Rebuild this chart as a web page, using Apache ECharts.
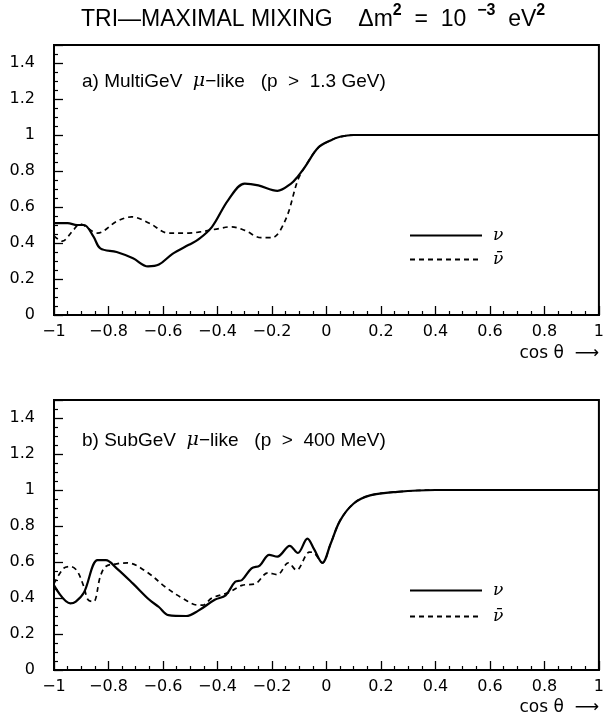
<!DOCTYPE html>
<html>
<head>
<meta charset="utf-8">
<script src="https://cdn.jsdelivr.net/npm/echarts@6/dist/echarts.min.js"></script>
<style>
  html, body { margin: 0; padding: 0; background: #fff; }
  #chart-container { width: 607px; height: 719px; }
</style>
</head>
<body>
<div id="chart-container"></div>
<script>
  // panel a) MultiGeV mu-like, neutrino (solid)
  var xA_nu = [-1, -0.95, -0.915, -0.89, -0.855, -0.83, -0.77, -0.71, -0.655, -0.615, -0.565, -0.505, -0.47, -0.42, -0.36, -0.3, -0.25, -0.18, -0.13, -0.105, -0.08, -0.03, 0.015, 0.05, 0.1, 0.2, 0.4, 0.6, 0.8, 1];
  var yA_nu = [0.51, 0.51, 0.50, 0.50, 0.435, 0.37, 0.35, 0.315, 0.27, 0.28, 0.34, 0.39, 0.42, 0.49, 0.64, 0.73, 0.72, 0.69, 0.73, 0.77, 0.82, 0.93, 0.97, 0.99, 1.0, 1.0, 1.0, 1.0, 1.0, 1.0];
  // panel a) anti-neutrino (dashed)
  var xA_nubar = [-1, -0.97, -0.93, -0.905, -0.84, -0.77, -0.715, -0.65, -0.58, -0.505, -0.47, -0.395, -0.35, -0.3, -0.24, -0.2, -0.15, -0.105, -0.08, -0.03, 0.015, 0.05, 0.1, 0.2, 0.4, 0.6, 0.8, 1];
  var yA_nubar = [0.44, 0.41, 0.47, 0.505, 0.455, 0.52, 0.545, 0.51, 0.455, 0.455, 0.46, 0.48, 0.49, 0.47, 0.43, 0.43, 0.53, 0.75, 0.82, 0.93, 0.97, 0.99, 1.0, 1.0, 1.0, 1.0, 1.0, 1.0];

  // panel b) SubGeV mu-like, neutrino (solid)
  var xB_nu = [-1, -0.94, -0.92, -0.89, -0.84, -0.81, -0.77, -0.71, -0.65, -0.615, -0.58, -0.515, -0.47, -0.41, -0.37, -0.335, -0.31, -0.275, -0.245, -0.21, -0.18, -0.135, -0.105, -0.07, -0.045, -0.015, 0.015, 0.05, 0.1, 0.16, 0.26, 0.4, 0.6, 0.8, 1];
  var yB_nu = [0.47, 0.37, 0.38, 0.43, 0.61, 0.61, 0.565, 0.48, 0.39, 0.35, 0.305, 0.30, 0.33, 0.39, 0.415, 0.49, 0.50, 0.565, 0.58, 0.64, 0.63, 0.69, 0.65, 0.73, 0.67, 0.595, 0.70, 0.83, 0.925, 0.97, 0.99, 1.0, 1.0, 1.0, 1.0];
  // panel b) anti-neutrino (dashed)
  var xB_nubar = [-1, -0.965, -0.94, -0.915, -0.89, -0.875, -0.855, -0.83, -0.81, -0.77, -0.73, -0.66, -0.59, -0.53, -0.47, -0.455, -0.42, -0.36, -0.31, -0.26, -0.215, -0.18, -0.14, -0.11, -0.062, -0.045, -0.015, 0.015, 0.05, 0.1, 0.16, 0.26, 0.4, 0.6, 0.8, 1];
  var yB_nubar = [0.48, 0.565, 0.575, 0.55, 0.46, 0.39, 0.38, 0.52, 0.575, 0.59, 0.595, 0.545, 0.46, 0.40, 0.36, 0.36, 0.40, 0.43, 0.47, 0.48, 0.54, 0.53, 0.595, 0.555, 0.655, 0.65, 0.595, 0.70, 0.83, 0.925, 0.97, 0.99, 1.0, 1.0, 1.0, 1.0];

  function zip(xs, ys) {
    return xs.map(function (x, i) { return [x, ys[i]]; });
  }

  var FONT = 'DejaVu Sans';
  var TEXTFONT = 'Liberation Sans';

  var dom = document.getElementById('chart-container');
  var myChart = echarts.init(dom, null, { renderer: 'canvas' });

  function xAxisFor(gridIndex) {
    return {
      type: 'value', gridIndex: gridIndex, min: -1, max: 1, interval: 0.2,
      axisLine: { show: true, onZero: false, lineStyle: { color: '#000', width: 2 } },
      axisTick: { show: true, inside: true, length: 9, lineStyle: { color: '#000', width: 1.3 } },
      minorTick: { show: true, splitNumber: 4, length: 4, lineStyle: { color: '#000', width: 1.2 } },
      splitLine: { show: false },
      axisLabel: {
        color: '#000', fontFamily: FONT, fontSize: 16, margin: 9,
        formatter: function (v) { return String(Math.round(v * 10) / 10).replace('-', '\u2212'); }
      }
    };
  }

  function yAxisFor(gridIndex) {
    return {
      type: 'value', gridIndex: gridIndex, min: 0, max: 1.5, interval: 0.2,
      axisLine: { show: true, onZero: false, lineStyle: { color: '#000', width: 2 } },
      axisTick: { show: true, inside: true, length: 9, lineStyle: { color: '#000', width: 1.3 } },
      minorTick: { show: true, splitNumber: 4, length: 4, lineStyle: { color: '#000', width: 1.2 } },
      splitLine: { show: false },
      axisLabel: {
        color: '#000', fontFamily: FONT, fontSize: 16, margin: 19, showMaxLabel: false,
        formatter: function (v) { return v > 1.45 ? '' : String(Math.round(v * 10) / 10); }
      }
    };
  }

  function lineSeries(name, idx, data, dashed) {
    return {
      name: name, type: 'line', xAxisIndex: idx, yAxisIndex: idx,
      data: data, smooth: 0.35, symbol: 'none', showSymbol: false, animation: false,
      z: dashed ? 2 : 3,
      itemStyle: { color: '#000' },
      lineStyle: { color: '#000', width: dashed ? 1.7 : 2.2, type: dashed ? [5, 4] : 'solid' }
    };
  }

  var legendNames = { a_nu: '\u03bd', a_nubar: '\u03bd\u0304', b_nu: '\u03bd', b_nubar: '\u03bd\u0304' };

  function legendFor(names, top, gap) {
    return {
      data: names, orient: 'vertical', left: 404, top: top,
      itemWidth: 72, itemHeight: 14, itemGap: gap, selectedMode: false,
      itemStyle: { color: 'rgba(0,0,0,0)', borderColor: 'rgba(0,0,0,0)', borderWidth: 0, opacity: 0 },
      textStyle: { color: '#000', fontFamily: 'DejaVu Serif', fontStyle: 'italic', fontSize: 17, padding: [0, 0, 0, 6] },
      formatter: function (n) { return legendNames[n]; }
    };
  }

  var labelRich = {
    n: { fill: '#000', fontFamily: TEXTFONT, fontSize: 19 },
    m: { fill: '#000', fontFamily: 'DejaVu Serif', fontStyle: 'italic', fontSize: 19 }
  };

  var option = {
    backgroundColor: '#fff',
    grid: [
      { left: 54, right: 3, top: 45, height: 270, show: true, borderColor: '#000', borderWidth: 2 },
      { left: 54, right: 3, top: 400, height: 270, show: true, borderColor: '#000', borderWidth: 2 }
    ],
    xAxis: [xAxisFor(0), xAxisFor(1)],
    yAxis: [yAxisFor(0), yAxisFor(1)],
    legend: [legendFor(['a_nu', 'a_nubar'], 222, 7), legendFor(['b_nu', 'b_nubar'], 577, 9)],
    series: [
      lineSeries('a_nubar', 0, zip(xA_nubar, yA_nubar), true),
      lineSeries('a_nu', 0, zip(xA_nu, yA_nu), false),
      lineSeries('b_nubar', 1, zip(xB_nubar, yB_nubar), true),
      lineSeries('b_nu', 1, zip(xB_nu, yB_nu), false)
    ],
    graphic: [
      {
        type: 'text', left: 81, top: 3,
        style: {
          text: '{t|TRI\u2014MAXIMAL MIXING    \u0394m}{s|2}{t|  =  10 }{s| \u22123}{t|  eV}{s|2}',
          rich: {
            t: { fill: '#000', fontFamily: TEXTFONT, fontSize: 23, verticalAlign: 'bottom', lineHeight: 28 },
            s: { fill: '#000', fontFamily: TEXTFONT, fontSize: 16, fontWeight: 'bold', verticalAlign: 'top', lineHeight: 28 }
          }
        }
      },
      {
        type: 'text', left: 82, top: 72,
        style: { text: '{n|a) MultiGeV  }{m|\u03bc}{n|\u2212like   (p  >  1.3 GeV)}', rich: labelRich }
      },
      {
        type: 'text', left: 82, top: 431,
        style: { text: '{n|b) SubGeV  }{m|\u03bc}{n|\u2212like   (p  >  400 MeV)}', rich: labelRich }
      },
      {
        type: 'text', right: 8, top: 345,
        style: { text: 'cos \u03b8  \u27f6', fill: '#000', font: '17px "DejaVu Sans"' }
      },
      {
        type: 'text', right: 8, top: 699,
        style: { text: 'cos \u03b8  \u27f6', fill: '#000', font: '17px "DejaVu Sans"' }
      }
    ]
  };

  myChart.setOption(option);
</script>
</body>
</html>
